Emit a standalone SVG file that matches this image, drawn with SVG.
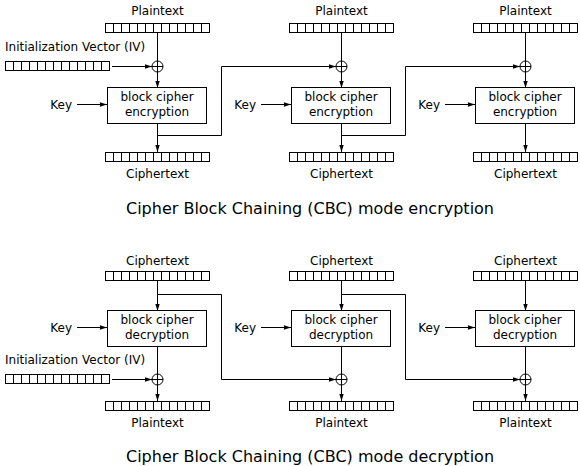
<svg xmlns="http://www.w3.org/2000/svg" xmlns:xlink="http://www.w3.org/1999/xlink" width="580" height="466" viewBox="0 0 580 466">
<style>
text{font-family:"DejaVu Sans","Liberation Sans",sans-serif;font-size:12px;fill:#000}
.c{text-anchor:middle}
.e{text-anchor:end}
.t{font-size:16px;text-anchor:middle}
.s{fill:none;stroke:#000;stroke-width:1}
.box{fill:#fff;stroke:#000;stroke-width:1}
.a{fill:none;stroke:#000;stroke-width:1;marker-end:url(#ah)}
</style>
<defs>
<marker id="ah" markerUnits="userSpaceOnUse" markerWidth="7" markerHeight="6" refX="7" refY="3" orient="auto">
<path d="M0,0.8 L7,3 L0,5.2 z" fill="#000"/>
</marker>
<g id="bar">
<rect x="0.5" y="0.5" width="104" height="9" fill="#fff" stroke="#000"/>
<path d="M8.5,0.5v9M16.5,0.5v9M24.5,0.5v9M32.5,0.5v9M40.5,0.5v9M48.5,0.5v9M56.5,0.5v9M64.5,0.5v9M72.5,0.5v9M80.5,0.5v9M88.5,0.5v9M96.5,0.5v9" stroke="#000" fill="none"/>
</g>
<g id="xor">
<circle cx="0" cy="0" r="5.5" fill="#fff" stroke="#000"/>
<path d="M-5.5,0H5.5M0,-5.5V5.5" stroke="#000" fill="none"/>
</g>
</defs>
<rect width="580" height="466" fill="#fff"/>

<g id="connectors">
<!-- encryption -->
<path class="s" d="M157.5,33V61M341.5,33V61M525.5,33V61"/>
<path class="a" d="M157.5,72V88"/>
<path class="a" d="M341.5,72V88"/>
<path class="a" d="M525.5,72V88"/>
<path class="a" d="M112,66.5H152"/>
<path class="a" d="M77,104.5H107"/>
<path class="a" d="M261,104.5H291"/>
<path class="a" d="M445,104.5H475"/>
<path class="a" d="M157.5,124V152"/>
<path class="a" d="M341.5,124V152"/>
<path class="a" d="M525.5,124V152"/>
<path class="a" d="M157.5,135.5H221.5V66.5H336"/>
<path class="a" d="M341.5,135.5H405.5V66.5H520"/>
<!-- decryption -->
<path class="a" d="M157.5,281V311"/>
<path class="a" d="M341.5,281V311"/>
<path class="a" d="M525.5,281V311"/>
<path class="a" d="M157.5,294.5H221.5V379.5H336"/>
<path class="a" d="M341.5,294.5H405.5V379.5H520"/>
<path class="a" d="M77,327.5H107"/>
<path class="a" d="M261,327.5H291"/>
<path class="a" d="M445,327.5H475"/>
<path class="s" d="M157.5,347V374M341.5,347V374M525.5,347V374"/>
<path class="a" d="M112,379.5H152"/>
<path class="a" d="M157.5,385V401"/>
<path class="a" d="M341.5,385V401"/>
<path class="a" d="M525.5,385V401"/>
</g>

<!-- encryption nodes -->
<g id="enc-iv">
<text x="5" y="51">Initialization Vector (IV)</text>
<use xlink:href="#bar" x="5" y="61"/>
</g>
<g id="enc-p1"><text class="c" x="157.5" y="15">Plaintext</text><use xlink:href="#bar" x="105" y="23"/></g>
<g id="enc-p2"><text class="c" x="341.5" y="15">Plaintext</text><use xlink:href="#bar" x="289" y="23"/></g>
<g id="enc-p3"><text class="c" x="525.5" y="15">Plaintext</text><use xlink:href="#bar" x="473" y="23"/></g>
<g id="enc-x1"><use xlink:href="#xor" x="157.5" y="66.5"/></g>
<g id="enc-x2"><use xlink:href="#xor" x="341.5" y="66.5"/></g>
<g id="enc-x3"><use xlink:href="#xor" x="525.5" y="66.5"/></g>
<g id="enc-k1"><text class="e" x="72" y="108.5">Key</text></g>
<g id="enc-k2"><text class="e" x="256" y="108.5">Key</text></g>
<g id="enc-k3"><text class="e" x="440" y="108.5">Key</text></g>
<g id="enc-b1"><rect class="box" x="107.5" y="87.5" width="99" height="36"/><text class="c" x="157" y="100.5">block cipher</text><text class="c" x="157" y="115.5">encryption</text></g>
<g id="enc-b2"><rect class="box" x="291.5" y="87.5" width="99" height="36"/><text class="c" x="341" y="100.5">block cipher</text><text class="c" x="341" y="115.5">encryption</text></g>
<g id="enc-b3"><rect class="box" x="475.5" y="87.5" width="99" height="36"/><text class="c" x="525" y="100.5">block cipher</text><text class="c" x="525" y="115.5">encryption</text></g>
<g id="enc-c1"><use xlink:href="#bar" x="105" y="152"/><text class="c" x="157.5" y="177.5">Ciphertext</text></g>
<g id="enc-c2"><use xlink:href="#bar" x="289" y="152"/><text class="c" x="341.5" y="177.5">Ciphertext</text></g>
<g id="enc-c3"><use xlink:href="#bar" x="473" y="152"/><text class="c" x="525.5" y="177.5">Ciphertext</text></g>
<g id="enc-title"><text class="t" x="310" y="213.5">Cipher Block Chaining (CBC) mode encryption</text></g>

<!-- decryption nodes -->
<g id="dec-c1"><text class="c" x="157.5" y="264.5">Ciphertext</text><use xlink:href="#bar" x="105" y="271"/></g>
<g id="dec-c2"><text class="c" x="341.5" y="264.5">Ciphertext</text><use xlink:href="#bar" x="289" y="271"/></g>
<g id="dec-c3"><text class="c" x="525.5" y="264.5">Ciphertext</text><use xlink:href="#bar" x="473" y="271"/></g>
<g id="dec-k1"><text class="e" x="72" y="331.5">Key</text></g>
<g id="dec-k2"><text class="e" x="256" y="331.5">Key</text></g>
<g id="dec-k3"><text class="e" x="440" y="331.5">Key</text></g>
<g id="dec-b1"><rect class="box" x="107.5" y="310.5" width="99" height="36"/><text class="c" x="157" y="323.5">block cipher</text><text class="c" x="157" y="338.5">decryption</text></g>
<g id="dec-b2"><rect class="box" x="291.5" y="310.5" width="99" height="36"/><text class="c" x="341" y="323.5">block cipher</text><text class="c" x="341" y="338.5">decryption</text></g>
<g id="dec-b3"><rect class="box" x="475.5" y="310.5" width="99" height="36"/><text class="c" x="525" y="323.5">block cipher</text><text class="c" x="525" y="338.5">decryption</text></g>
<g id="dec-iv">
<text x="5" y="363.5">Initialization Vector (IV)</text>
<use xlink:href="#bar" x="5" y="374"/>
</g>
<g id="dec-x1"><use xlink:href="#xor" x="157.5" y="379.5"/></g>
<g id="dec-x2"><use xlink:href="#xor" x="341.5" y="379.5"/></g>
<g id="dec-x3"><use xlink:href="#xor" x="525.5" y="379.5"/></g>
<g id="dec-p1"><use xlink:href="#bar" x="105" y="401"/><text class="c" x="157.5" y="426.5">Plaintext</text></g>
<g id="dec-p2"><use xlink:href="#bar" x="289" y="401"/><text class="c" x="341.5" y="426.5">Plaintext</text></g>
<g id="dec-p3"><use xlink:href="#bar" x="473" y="401"/><text class="c" x="525.5" y="426.5">Plaintext</text></g>
<g id="dec-title"><text class="t" x="310" y="461.5">Cipher Block Chaining (CBC) mode decryption</text></g>
</svg>
